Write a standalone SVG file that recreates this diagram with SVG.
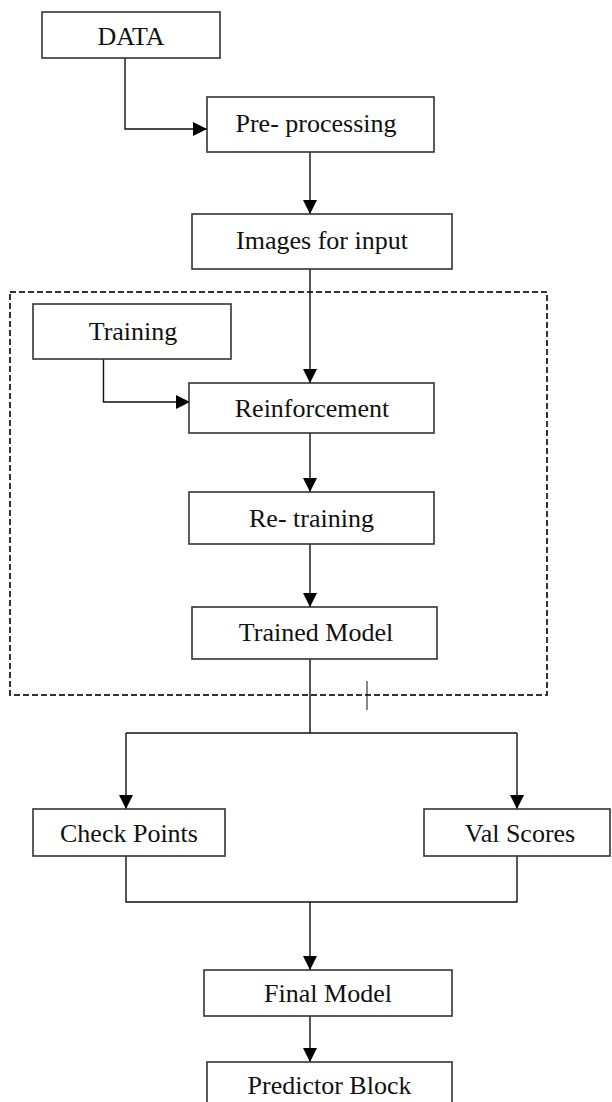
<svg xmlns="http://www.w3.org/2000/svg" width="612" height="1102" viewBox="0 0 612 1102">
<style>
.box{fill:#fff;stroke:#333;stroke-width:1.6}
.lbl{font-family:"Liberation Serif","Times New Roman",serif;font-size:26px;fill:#111;text-anchor:middle}
.ln{fill:none;stroke:#111;stroke-width:1.4}
.arr{fill:none;stroke:#111;stroke-width:1.4;marker-end:url(#ah)}
.dash{fill:none;stroke:#333;stroke-width:2;stroke-dasharray:6 3}
</style>
<defs>
<marker id="ah" markerUnits="userSpaceOnUse" markerWidth="15" markerHeight="14" refX="14" refY="7" orient="auto">
<path d="M0,0 L14,7 L0,14 Z" fill="#000"/>
</marker>
</defs>
<g id="group-boundary">
<rect class="dash" x="10" y="292" width="537" height="403"/>
</g>
<g id="connectors">
<path class="arr" d="M125,58 V129 H207"/>
<path class="arr" d="M310,152 V214"/>
<path class="arr" d="M310,269 V383"/>
<path class="arr" d="M103.5,359 V402 H190"/>
<path class="arr" d="M310,433 V492"/>
<path class="arr" d="M310,544 V607"/>
<path class="ln" d="M310,659 V733"/>
<path class="ln" d="M126,733 H517"/>
<path class="arr" d="M126,733 V809"/>
<path class="arr" d="M517,733 V809"/>
<path class="ln" d="M367,681 V710" style="stroke-width:1"/>
<path class="ln" d="M126,856 V902 H517 V856"/>
<path class="arr" d="M310,902 V970"/>
<path class="arr" d="M310,1016 V1062"/>
</g>
<g id="node-data">
<rect class="box" x="42" y="12" width="178" height="46"/>
<text class="lbl" x="131" y="45">DATA</text>
</g>
<g id="node-preprocessing">
<rect class="box" x="207" y="97" width="227" height="55"/>
<text class="lbl" x="316" y="132">Pre- processing</text>
</g>
<g id="node-images">
<rect class="box" x="192" y="214" width="260" height="55"/>
<text class="lbl" x="322" y="249">Images for input</text>
</g>
<g id="node-training">
<rect class="box" x="33" y="304" width="198" height="55"/>
<text class="lbl" x="133" y="340">Training</text>
</g>
<g id="node-reinforcement">
<rect class="box" x="189" y="383" width="245" height="50"/>
<text class="lbl" x="312" y="417">Reinforcement</text>
</g>
<g id="node-retraining">
<rect class="box" x="189" y="492" width="245" height="52"/>
<text class="lbl" x="311.5" y="527">Re- training</text>
</g>
<g id="node-trained-model">
<rect class="box" x="192" y="607" width="245" height="52"/>
<text class="lbl" x="316" y="641">Trained Model</text>
</g>
<g id="node-check-points">
<rect class="box" x="33" y="809" width="192" height="47"/>
<text class="lbl" x="129" y="842">Check Points</text>
</g>
<g id="node-val-scores">
<rect class="box" x="424" y="809" width="186" height="47"/>
<text class="lbl" x="520" y="842">Val Scores</text>
</g>
<g id="node-final-model">
<rect class="box" x="204" y="970" width="248" height="46"/>
<text class="lbl" x="328" y="1002">Final Model</text>
</g>
<g id="node-predictor">
<rect class="box" x="207" y="1062" width="245" height="50"/>
<text class="lbl" x="329.5" y="1094">Predictor Block</text>
</g>
</svg>
